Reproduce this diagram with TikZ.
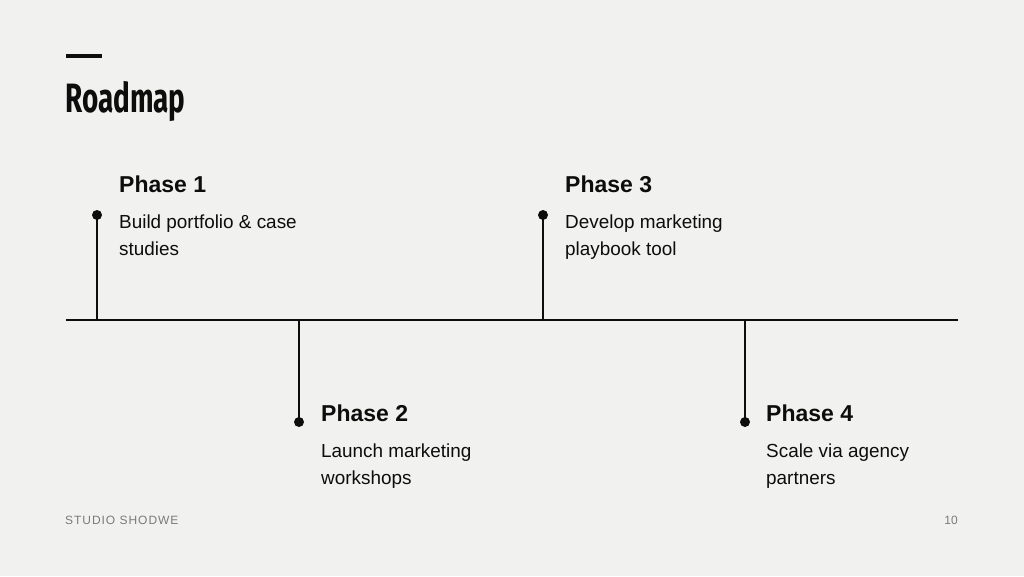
\documentclass[tikz,border=0pt]{standalone}
\usepackage{fontspec}
\setmainfont{Liberation Sans}
\newfontfamily\titlefont[FakeStretch=0.68]{Fira Sans Bold}
\newfontfamily\bodyfont{Liberation Sans}
\definecolor{bg}{HTML}{F1F1EF}
\definecolor{ink}{HTML}{0D0D0D}
\definecolor{foot}{HTML}{7A7A7A}
\begin{document}
\begin{tikzpicture}[x=1pt,y=-1pt,
  dotnode/.style={circle,fill=ink,inner sep=0pt,minimum size=10pt},
  stem/.style={draw=ink,line width=2.7pt},
  axis/.style={draw=ink,line width=2.8pt},
  head/.style={anchor=base west,inner sep=0pt,font=\bodyfont\bfseries\fontsize{23}{27}\selectfont,text=ink},
  body/.style={anchor=base west,inner sep=0pt,align=left,font=\bodyfont\fontsize{18.9}{27}\selectfont,text=ink},
  footer/.style={inner sep=0pt,text=foot,font=\bodyfont\fontsize{12}{14}\selectfont}]
\fill[bg] (0,0) rectangle (1024,576);
\useasboundingbox (0,0) rectangle (1024,576);
% title
\coordinate (barL) at (66,56);
\coordinate (barR) at (102,56);
\draw[ink,line width=4pt] (barL) -- (barR);
\node[anchor=base west,inner sep=0pt,text=ink,font=\titlefont\fontsize{41}{46}\selectfont] (title) at (65,112) {Roadmap};
% axis
\coordinate (axL) at (66,320);
\coordinate (axR) at (958,320);
\draw[axis] (axL) -- (axR);
% phase 1
\coordinate (a1) at (97,320);
\node[dotnode] (d1) at (97,215) {};
\draw[stem] (a1) -- (d1.center);
\node[head] (h1) at (119,192) {Phase 1};
\node[body] (b1) at (119,255) {Build portfolio \& case\\studies};
% phase 3
\coordinate (a3) at (543,320);
\node[dotnode] (d3) at (543,215) {};
\draw[stem] (a3) -- (d3.center);
\node[head] (h3) at (565,192) {Phase 3};
\node[body] (b3) at (565,255) {Develop marketing\\playbook tool};
% phase 2
\coordinate (a2) at (299,320);
\node[dotnode] (d2) at (299,422) {};
\draw[stem] (a2) -- (d2.center);
\node[head] (h2) at (321,421) {Phase 2};
\node[body] (b2) at (321,484) {Launch marketing\\workshops};
% phase 4
\coordinate (a4) at (745,320);
\node[dotnode] (d4) at (745,422) {};
\draw[stem] (a4) -- (d4.center);
\node[head] (h4) at (766,421) {Phase 4};
\node[body] (b4) at (766,484) {Scale via agency\\partners};
% footer
\node[footer,anchor=base west] (brand) at (65,524) {\addfontfeatures{LetterSpace=8}STUDIO SHODWE};
\node[footer,anchor=base east] (page) at (958,524) {10};
\end{tikzpicture}
\end{document}
